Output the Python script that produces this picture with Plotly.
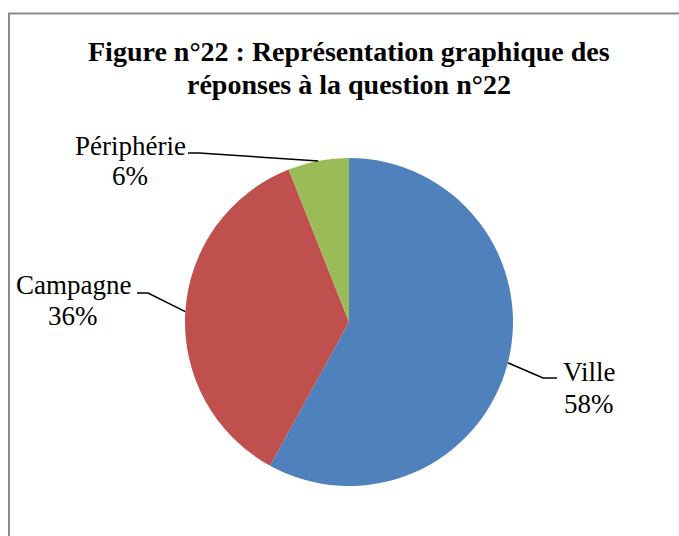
import math
import plotly.graph_objects as go

# data
labels = ["Ville", "Campagne", "Périphérie"]
values = [58, 36, 6]
colors = ["#4F81BD", "#C0504D", "#9BBB59"]
title_lines = ["Figure n°22 : Représentation graphique des", "réponses à la question n°22"]

W, H = 679, 536
cx, cy, r = 349, 322, 164  # pie centre / radius in px

def px(x, y):
    return x / W, 1 - y / H

fig = go.Figure()
fig.add_trace(go.Pie(
    labels=labels,
    values=values,
    marker=dict(colors=colors, line=dict(width=0)),
    sort=False,
    direction="clockwise",
    rotation=0,
    textinfo="none",
    hoverinfo="label+percent",
    showlegend=False,
    domain=dict(x=[px(cx - r, 0)[0], px(cx + r, 0)[0]],
                y=[px(0, cy + r)[1], px(0, cy - r)[1]]),
))

# label placement (px): text centre x, line centres y, elbow point, end of horizontal tick
label_pos = {
    "Ville": dict(tx=589, ty=(372, 404), elbow=(543, 378), tick=(557, 378)),
    "Campagne": dict(tx=73, ty=(285, 316), elbow=(148, 293), tick=(137, 293)),
    "Périphérie": dict(tx=130, ty=(146, 176), elbow=(199, 153), tick=(188, 153)),
}
lab_font = dict(family="Liberation Serif", size=27, color="black")

total = sum(values)
cum = 0
for lab, v in zip(labels, values):
    mid = (cum + v / 2) / total * 2 * math.pi
    cum += v
    ex, ey = cx + r * math.sin(mid), cy - r * math.cos(mid)
    p = label_pos[lab]
    pts = [(ex, ey), p["elbow"], p["tick"]]
    path = "M " + " L ".join(f"{px(a, b)[0]} {px(a, b)[1]}" for a, b in pts)
    fig.add_shape(type="path", path=path, xref="paper", yref="paper",
                  line=dict(color="black", width=1.5))
    for txt, ty in zip([lab, f"{round(v / total * 100)}%"], p["ty"]):
        x, y = px(p["tx"], ty)
        fig.add_annotation(x=x, y=y, xref="paper", yref="paper", showarrow=False,
                           text=txt, font=lab_font,
                           xanchor="center", yanchor="middle")

# chart area border (left and top visible)
bx, by = px(9, 13.5)
fig.add_shape(type="path", xref="paper", yref="paper",
              path=f"M {bx} -0.1 L {bx} {by} L 1.1 {by}",
              line=dict(color="#8c8c8c", width=2))

for txt, ty in zip(title_lines, (52, 84)):
    x, y = px(349, ty)
    fig.add_annotation(x=x, y=y, xref="paper", yref="paper", showarrow=False,
                       text=f"<b>{txt}</b>",
                       font=dict(family="Liberation Serif", size=28, color="black"),
                       xanchor="center", yanchor="middle")

fig.update_layout(
    width=W, height=H,
    margin=dict(l=0, r=0, t=0, b=0),
    paper_bgcolor="#ffffff",
    plot_bgcolor="#ffffff",
)

# no page margin / scrollbars so the figure fills the window
fig.write_html("out.html", config={"displayModeBar": False}, post_script=(
    "document.body.style.margin='0';"
    "document.body.style.overflow='hidden';"
    "document.documentElement.style.overflow='hidden';"
))
